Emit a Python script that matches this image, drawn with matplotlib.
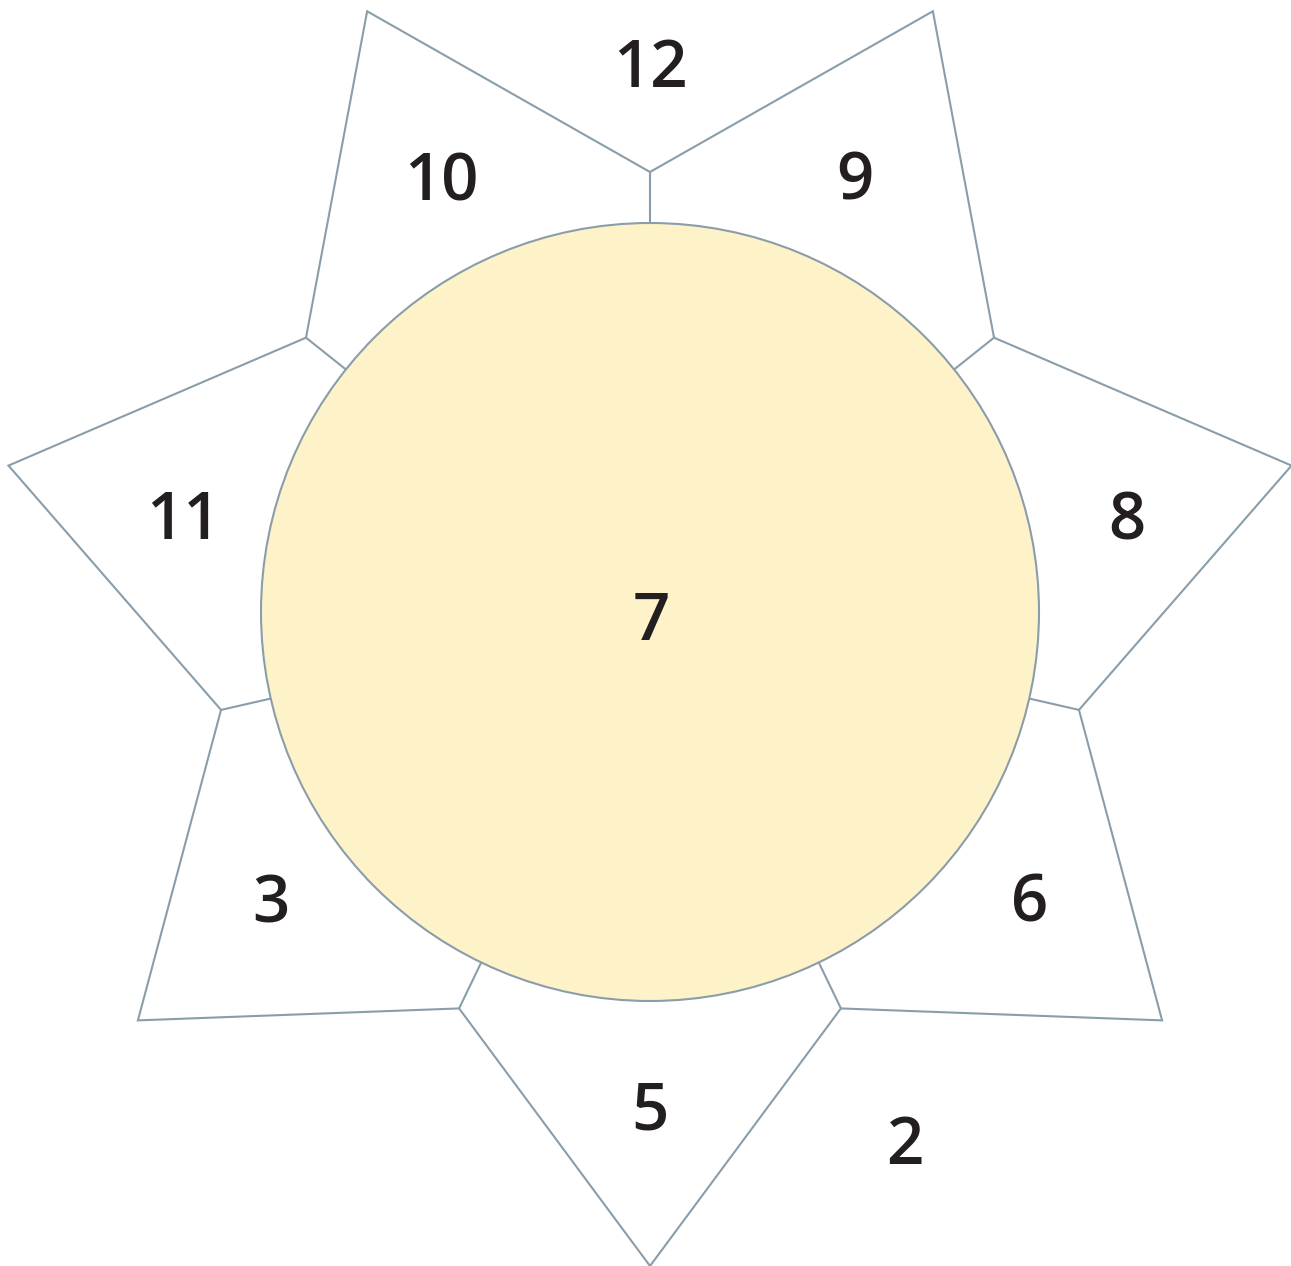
import numpy as np
import matplotlib
matplotlib.use("Agg")
import matplotlib.pyplot as plt
from matplotlib.patches import Polygon, Circle

# ---- data ----
center_label = "7"
petal_labels = ["5", "3", "11", "10", "9", "8", "6"]   # clockwise from bottom petal
gap_labels = ["12", "2"]

# ---- layout ----
W, H = 1291, 1266
cx, cy = 650, 612
R_in, R_circ = 440, 389
n = len(petal_labels)
step = 360.0 / n
R_out = [654, 655, 658, 664, 664, 658, 655]
tip_shift = [0, 0, 0, 0.5, -0.5, 0, 0]
# label anchors in polar form (radius, angle in degrees, y downward)
petal_label_pos = [(494, 90.0), (475, 142.9), (477, 191.7), (483, 244.4),
                   (482, 295.2), (486, 348.6), (475, 37.0)]
gap_label_pos = [(549, 270.0), (586, 64.2)]
edge = "#8A9DAA"
fill = "#FEF3C8"
txt = "#231F20"

def pt(r, deg):
    a = np.deg2rad(deg)
    return cx + r * np.cos(a), cy + r * np.sin(a)

fig = plt.figure(figsize=(W / 100, H / 100), dpi=100)
ax = fig.add_axes([0, 0, 1, 1])
ax.set_xlim(0, W)
ax.set_ylim(H, 0)
ax.set_aspect("equal")
ax.axis("off")

# star outline
verts = []
for k in range(n):
    verts.append(pt(R_out[k], 90 + k * step + tip_shift[k]))
    verts.append(pt(R_in, 90 + (k + 0.5) * step))
ax.add_patch(Polygon(verts, closed=True, facecolor="white", edgecolor=edge, lw=1.5, zorder=1))

# spokes from inner vertices to circle
for k in range(n):
    a = 90 + (k + 0.5) * step
    x0, y0 = pt(R_in, a)
    x1, y1 = pt(R_circ, a)
    ax.plot([x0, x1], [y0, y1], color=edge, lw=1.5, zorder=2)

ax.add_patch(Circle((cx, cy), R_circ, facecolor=fill, edgecolor=edge, lw=1.5, zorder=3))

fs = 47
fam = ["Open Sans", "DejaVu Sans"]
def label(x, y, s):
    ax.text(x, y + 24, s, ha="center", va="baseline", fontsize=fs, color=txt,
            family=fam, fontweight="semibold", zorder=5)

label(cx + 1, cy + 4, center_label)
for (r, a), s in zip(petal_label_pos, petal_labels):
    x, y = pt(r, a)
    label(x, y, s)
for (r, a), s in zip(gap_label_pos, gap_labels):
    x, y = pt(r, a)
    label(x, y, s)

fig.savefig("out.png", dpi=100)
